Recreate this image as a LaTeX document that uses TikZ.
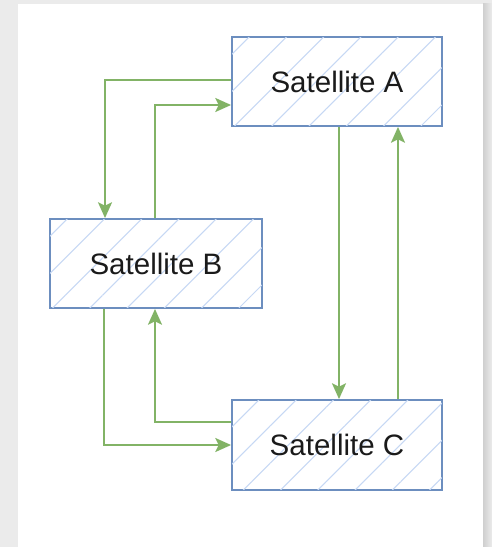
\documentclass[tikz,border=0pt]{standalone}
\usepackage{fontspec}
\setmainfont{Liberation Sans}
\usepackage{xcolor}
\usepackage{tikz}
\usetikzlibrary{positioning,arrows.meta,calc,patterns.meta}
\definecolor{pagebg}   {HTML}{EBEBEB}
\definecolor{shadowc}  {HTML}{CFCFCF}
\definecolor{boxline}  {HTML}{6C8EBF}
\definecolor{hatchc}   {HTML}{C6D8F4}
\definecolor{linkc}    {HTML}{82B366}
\definecolor{ink}      {HTML}{1A1A1A}
\tikzset{
  sat/.style  = {draw=boxline, line width=1.1pt, fill=white,
                 postaction={pattern={Lines[angle=45,distance=15pt,line width=0.6pt]},
                             pattern color=hatchc},
                 minimum width=4.2cm, minimum height=1.78cm, align=center,
                 text=ink, font=\fontsize{16.8}{20}\selectfont, inner sep=0pt},
  link/.style = {-{Stealth[length=9pt,width=8pt,inset=2pt]}, draw=linkc,
                 line width=1.1pt},
}
\begin{document}
\begin{tikzpicture}[x=0.02cm, y=-0.02cm]
  % page
  \fill[pagebg] (0,0) rectangle (492,547);
  \shade[left color=shadowc, right color=pagebg] (483,4) rectangle (492,547);
  \fill[white] (18,4) rectangle (483,547);
  \useasboundingbox (0,0) rectangle (492,547);

  % satellites
  \node[sat] (A) at (337,81.5) {Satellite A};
  \node[sat, minimum width=4.24cm] (B) at (156,263.5) {Satellite B};
  \node[sat, minimum height=1.8cm] (C) at (337,445) {Satellite C};

  % A <-> B
  \draw[link] ([yshift=0.03cm]A.west) -| ([xshift=-1.02cm]B.north);
  \draw[link] ([xshift=-0.02cm]B.north) |- ([yshift=-0.47cm]A.west);

  % A <-> C
  \draw[link] ([xshift=0.04cm]A.south) -- ([xshift=0.04cm]C.north);
  \draw[link] ([xshift=1.22cm]C.north) -- ([xshift=1.22cm]A.south);

  % B <-> C
  \draw[link] ([yshift=0.46cm]C.west) -| ([xshift=-0.02cm]B.south);
  \draw[link] ([xshift=-1.04cm]B.south) |- (C.west);
\end{tikzpicture}
\end{document}
